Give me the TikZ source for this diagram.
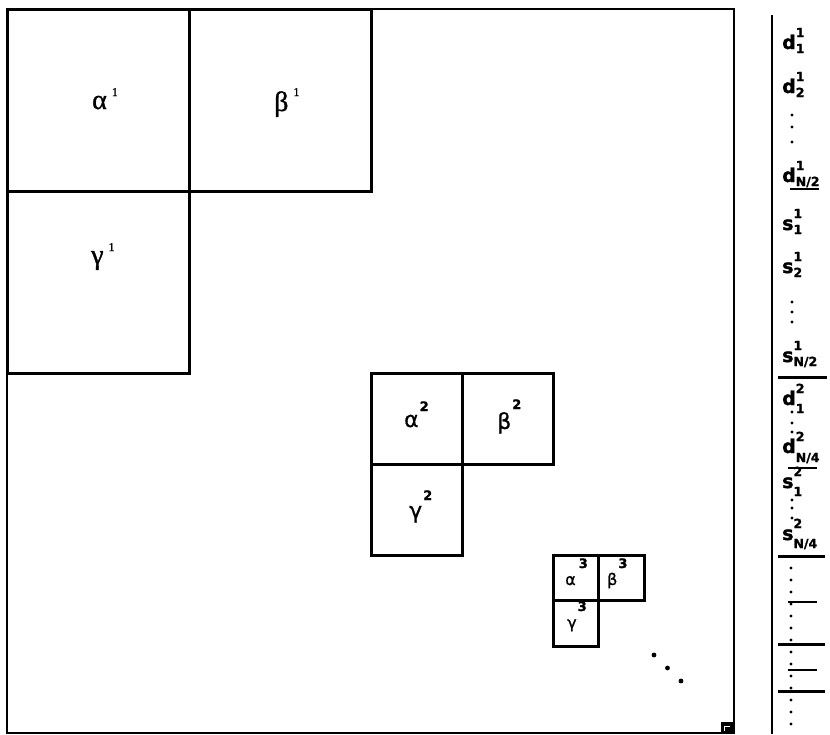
\documentclass[tikz,border=0pt]{standalone}
\usepackage{fontspec}
\setmainfont{DejaVu Sans}
\newfontfamily\greekserif[FakeBold=1.2]{Liberation Serif}
\newfontfamily\greeksans[FakeBold=0.8]{DejaVu Sans}
\newfontfamily\heavy[FakeBold=1.5]{DejaVu Sans}
\usetikzlibrary{positioning}

% index labels of the right column: base, superscript, subscript
\newcommand{\idx}[4][-4pt]{#2\rlap{\raisebox{12pt}{\fontsize{12.5}{12.5}\selectfont #3}}\raisebox{#1}{\fontsize{12.5}{12.5}\selectfont #4}}
% level superscripts of the blocks
\newcommand{\one}[1][13pt]{\hspace{5pt}\raisebox{#1}{\fontsize{12}{12}\selectfont 1}}
\newcommand{\lev}[2]{\hspace{1pt}\raisebox{#1}{\heavy\fontsize{13}{13}\selectfont\bfseries #2}}

\begin{document}
\begin{tikzpicture}[x=1pt, y=-1pt,
  box/.style={draw, line width=3pt, inner sep=0pt, outer sep=0pt, minimum size=#1},
  big/.style={anchor=base west, inner sep=0pt, font=\greekserif\fontsize{28}{28}\selectfont},
  mid/.style={anchor=base west, inner sep=0pt, font=\greeksans\fontsize{22}{22}\selectfont},
  sml/.style={anchor=base west, inner sep=0pt, font=\greeksans\fontsize{16}{16}\selectfont},
  coef/.style={anchor=base west, inner sep=0pt, font=\heavy\fontsize{19}{19}\selectfont\bfseries},
  cut/.style={line width=3pt},
  thin cut/.style={line width=2.2pt}]
\useasboundingbox (0,0) rectangle (830,734);
% the transform matrix
\draw[line width=1.8pt] (7,9) rectangle (734,733);
% level 1
\node[box=182pt, anchor=north west] (a1) at (7,9) {};
\node[box=182pt, right=0pt of a1] (b1) {};
\node[box=182pt, below=0pt of a1] (g1) {};
% level 2
\node[box=91pt, anchor=north west] (a2) at (b1.east |- g1.south) {};
\node[box=91pt, right=0pt of a2] (b2) {};
\node[box=91pt, below=0pt of a2] (g2) {};
% level 3
\node[box=45.5pt, anchor=north west] (a3) at (b2.east |- g2.south) {};
\node[box=45.5pt, right=0pt of a3] (b3) {};
\node[box=45.5pt, below=0pt of a3] (g3) {};
% block labels
\node[big] (la1) at (92,109) {α\one};
\node[big] (lb1) at (274,111) {β\one[15pt]};
\node[big] (lg1) at (91,264) {γ\one};
\node[mid] (la2) at (404,427) {α\lev{16pt}{2}};
\node[mid] (lb2) at (497,429) {β\lev{20pt}{2}};
\node[mid] (lg2) at (409,518) {γ\lev{18pt}{2}};
\node[sml] (la3) at (565,585) {α\lev{17pt}{\hspace{2pt}3}};
\node[sml] (lb3) at (607,585) {β\lev{17pt}{3}};
\node[sml] (lg3) at (567,628) {γ\lev{17pt}{3}};
\foreach \i in {0,1,2}
  \fill (654+13.5*\i, 655+13*\i) circle (2.4pt);
% size box
\fill (721,722) rectangle (733,733);
\draw[white, line width=1pt] (724,731) -- (724,726) -- (730,726);
% coefficient column
\draw[line width=2.2pt] (772,15) -- (772,734);
\node[coef] (d11) at (782,49) {\idx{d}{1}{1}};
\node[coef] (d12) at (782,93) {\idx{d}{1}{2}};
\node[coef] (d1n) at (782,182) {\idx{d}{1}{N/2}};
\node[coef] (s11) at (782,230) {\idx{s}{1}{1}};
\node[coef] (s12) at (782,273) {\idx{s}{1}{2}};
\node[coef] (s1n) at (782,362) {\idx{s}{1}{N/2}};
\node[coef] (d21) at (782,405) {\idx[-8pt]{d}{2}{1}};
\node[coef] (d2n) at (782,453) {\idx[-9pt]{d}{2}{N/4}};
\node[coef] (s21) at (782,488) {\idx[-8pt]{s}{2}{1}};
\node[coef] (s2n) at (782,540) {\idx[-8pt]{s}{2}{N/4}};
\foreach \y in {115,127,142, 302,312,322, 412,423,432, 500,508,518}
  \fill (792,\y) circle (1.7pt);
\foreach \y in {568,580,...,734}
  \fill (791,\y) circle (1.7pt);
\draw[thin cut] (790,189) -- (819,189);
\draw[cut] (778,377) -- (827,377);
\draw[thin cut] (788,468) -- (817,468);
\draw[cut] (778,556) -- (825,556);
\draw[thin cut] (788,602) -- (817,602);
\draw[cut] (778,644) -- (825,644);
\draw[thin cut] (788,670) -- (817,670);
\draw[cut] (778,691) -- (825,691);
\end{tikzpicture}
\end{document}
